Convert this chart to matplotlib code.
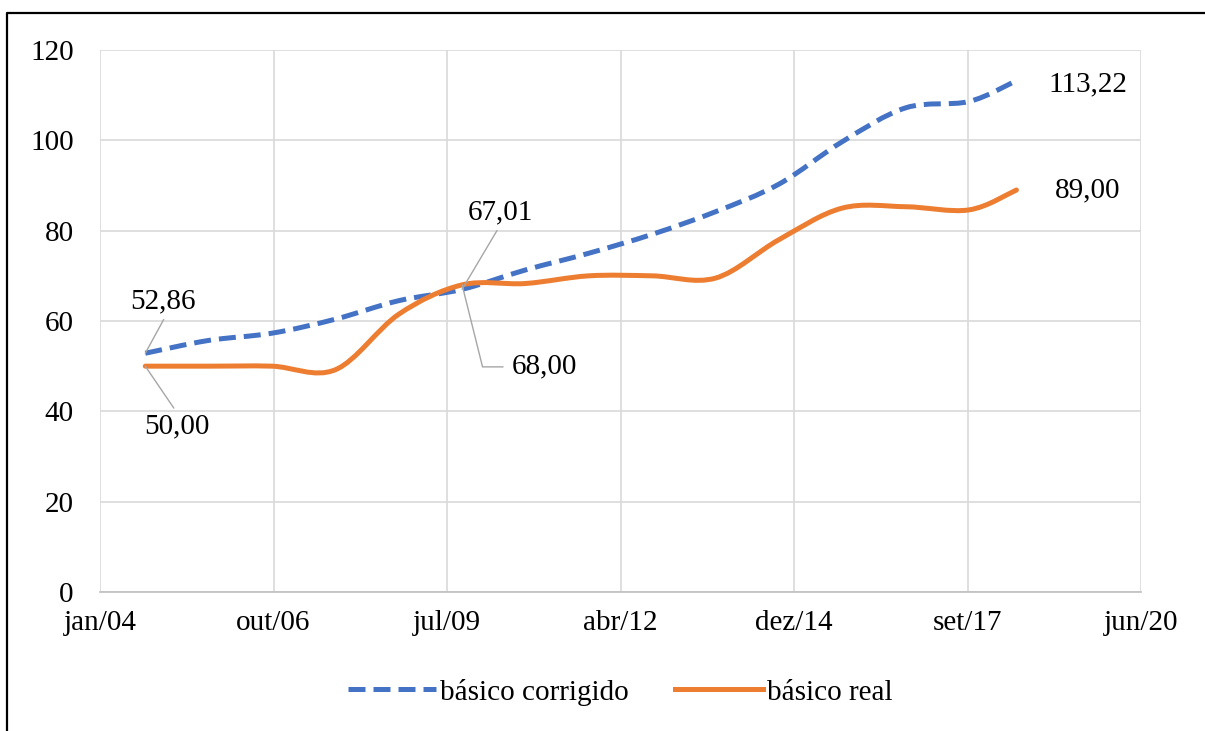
import numpy as np
import pandas as pd
import matplotlib
matplotlib.use("Agg")
import matplotlib.pyplot as plt
import matplotlib.dates as mdates
from matplotlib.path import Path
from matplotlib.patches import PathPatch
from matplotlib.lines import Line2D
from matplotlib.ticker import FuncFormatter

# salário básico (valores anuais)
datas = ["2004-10-01", "2005-10-01", "2006-10-01", "2007-10-01", "2008-10-01",
         "2009-10-01", "2010-10-01", "2011-10-01", "2012-10-01", "2013-10-01",
         "2014-10-01", "2015-10-01", "2016-10-01", "2017-10-01", "2018-07-01"]
basico_corrigido = [52.86, 55.7, 57.3, 60.4, 64.5, 67.01, 71.3, 75.0, 79.2,
                    84.2, 90.3, 99.7, 107.2, 108.6, 113.22]
basico_real = [50.00, 50.0, 50.0, 49.2, 61.5, 68.00, 68.3, 70.0, 70.0,
               69.5, 78.0, 85.0, 85.3, 84.6, 89.00]

# rótulos de dados: índice do ponto e texto
rotulos_corrigido = {0: "52,86", 5: "67,01", 14: "113,22"}
rotulos_real = {0: "50,00", 5: "68,00", 14: "89,00"}

meses = ["jan", "fev", "mar", "abr", "mai", "jun",
         "jul", "ago", "set", "out", "nov", "dez"]

AZUL = "#4472C4"
LARANJA = "#ED7D31"
CINZA = "#D9D9D9"
FONTE = "Liberation Serif"

plt.rcParams["font.family"] = [FONTE, "DejaVu Serif"]
plt.rcParams["font.size"] = 21


def curva_suave(x, y):
    """Path de Bézier cúbica passando pelos pontos (suavização tipo Excel)."""
    pts = np.column_stack([x, y])
    n = len(pts)
    verts = [pts[0]]
    codes = [Path.MOVETO]
    for i in range(n - 1):
        p0 = pts[max(i - 1, 0)]
        p1 = pts[i]
        p2 = pts[i + 1]
        p3 = pts[min(i + 2, n - 1)]
        c1 = p1 + (p2 - p0) / 6.0
        c2 = p2 - (p3 - p1) / 6.0
        verts += [c1, c2, p2]
        codes += [Path.CURVE4] * 3
    return Path(verts, codes)


x = mdates.date2num(pd.to_datetime(datas))

fig = plt.figure(figsize=(12.05, 7.31), dpi=100)
ax = fig.add_axes([100 / 1205, 1 - 592 / 731, 1041 / 1205, 542 / 731])

traco = (0, (3.4, 1.6))
ax.add_patch(PathPatch(curva_suave(x, basico_corrigido), fill=False,
                       edgecolor=AZUL, lw=3.6, linestyle=traco,
                       capstyle="butt", zorder=3))
ax.add_patch(PathPatch(curva_suave(x, basico_real), fill=False,
                       edgecolor=LARANJA, lw=3.6, capstyle="round",
                       joinstyle="round", zorder=3))

# eixo de datas: início em 14/01/2004, unidade principal de 1000 dias
inicio = mdates.date2num(pd.Timestamp("2004-01-14"))
ticks_x = [inicio + 1000 * k for k in range(7)]
ax.set_xlim(ticks_x[0], ticks_x[-1])
ax.set_xticks(ticks_x)


def rotulo_data(v, pos):
    d = mdates.num2date(v)
    return "%s/%02d" % (meses[d.month - 1], d.year % 100)


ax.xaxis.set_major_formatter(FuncFormatter(rotulo_data))
ax.set_ylim(0, 120)
ax.set_yticks(range(0, 121, 20))

ax.grid(True, color=CINZA, lw=1.2)
ax.set_axisbelow(True)
for lado in ["top", "right", "left"]:
    ax.spines[lado].set_visible(False)
ax.spines["bottom"].set_color("#BFBFBF")
ax.spines["bottom"].set_linewidth(1.2)
ax.tick_params(axis="both", length=0, labelsize=21)
ax.tick_params(axis="y", pad=19)
ax.tick_params(axis="x", pad=13)

# rótulos com linhas de chamada
lider = dict(arrowstyle="-", color="#A6A6A6", lw=1.0, shrinkA=2, shrinkB=0)
ax.annotate(rotulos_corrigido[0], (x[0], basico_corrigido[0]),
            xytext=(18, 52), textcoords="offset pixels",
            ha="center", va="center",
            arrowprops=dict(lider, relpos=(0.55, 0.0)))
ax.annotate(rotulos_real[0], (x[0], basico_real[0]),
            xytext=(32, -60), textcoords="offset pixels",
            ha="center", va="center",
            arrowprops=dict(lider, relpos=(0.5, 1.0)))
ax.annotate(rotulos_corrigido[5], (x[5], basico_corrigido[5]),
            xytext=(38, 77), textcoords="offset pixels",
            ha="center", va="center",
            arrowprops=dict(lider, relpos=(0.5, 0.0)))
ax.annotate(rotulos_real[5], (x[5], basico_real[5]),
            xytext=(82, -82), textcoords="offset pixels",
            ha="center", va="center",
            arrowprops=dict(lider, relpos=(0.0, 0.5), shrinkA=4,
                            connectionstyle="angle,angleA=0,angleB=-76,rad=0"))
ax.annotate(rotulos_corrigido[14], (x[14], basico_corrigido[14]),
            xytext=(71, -4), textcoords="offset pixels",
            ha="center", va="center")
ax.annotate(rotulos_real[14], (x[14], basico_real[14]),
            xytext=(71, 0), textcoords="offset pixels",
            ha="center", va="center")

handles = [Line2D([], [], color=AZUL, lw=3.6, linestyle=traco,
                  dash_capstyle="butt"),
           Line2D([], [], color=LARANJA, lw=3.6)]
pos = ax.get_position()
fig.legend(handles, ["básico corrigido", "básico real"],
           loc="center", bbox_to_anchor=(pos.x0 + pos.width / 2, 1 - 692 / 731),
           ncol=2, frameon=False, prop={"family": FONTE, "size": 21},
           handlelength=3.0, handletextpad=0.15, columnspacing=1.6)

# moldura (lados superior e esquerdo)
fig.add_artist(Line2D([7 / 1205, 7 / 1205, 1], [0, 1 - 13 / 731, 1 - 13 / 731],
                      transform=fig.transFigure, color="black", lw=1.6))

fig.savefig("out.png", dpi=100)
